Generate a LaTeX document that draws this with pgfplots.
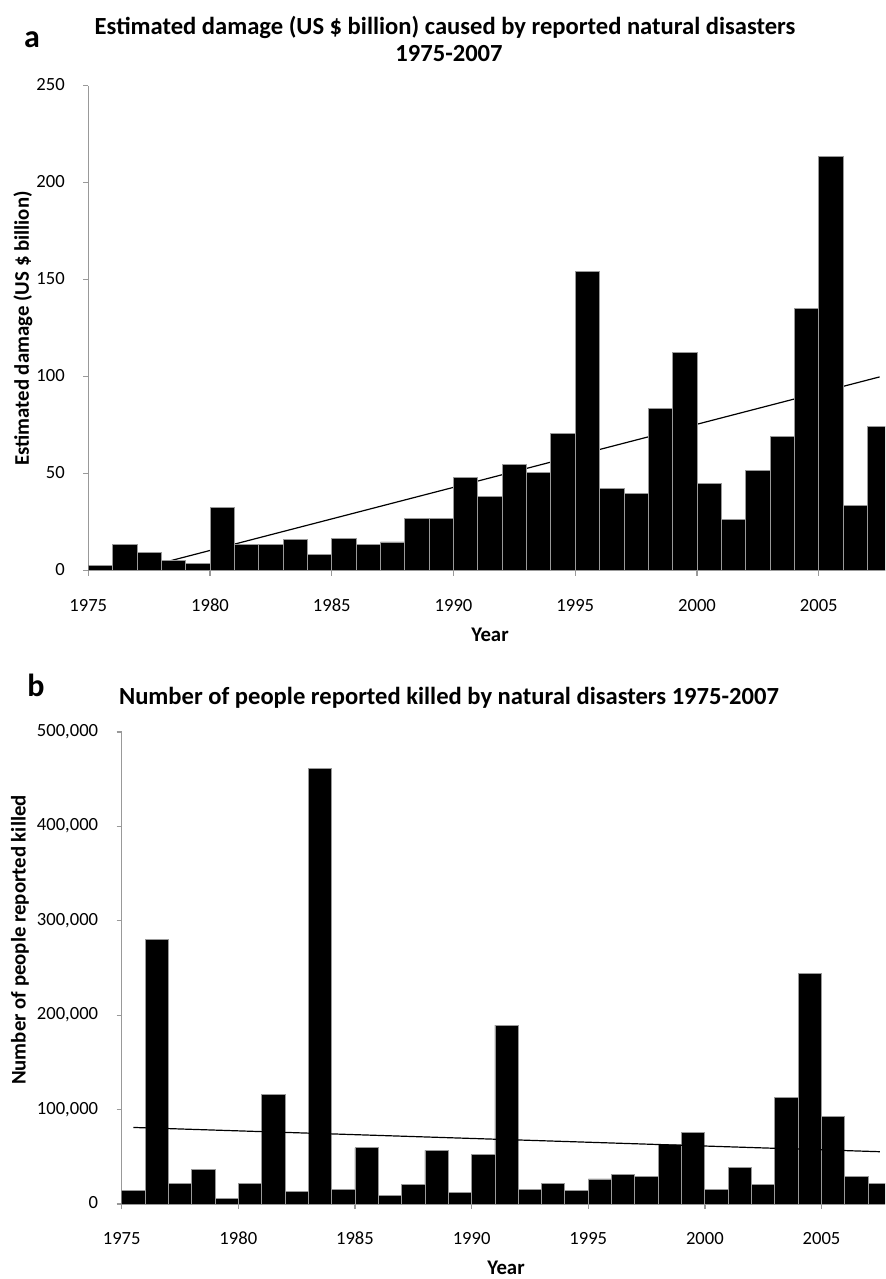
\documentclass[border=0pt]{standalone}
\usepackage{pgfplots}
\pgfplotsset{compat=1.18}
\usepackage{pgfplotstable}
\usepackage{fontspec}
\setmainfont{Carlito}

\pgfplotstableread{
year damage
1975 2.7
1976 13.7
1977 9.6
1978 5.5
1979 3.9
1980 32.4
1981 13.7
1982 13.7
1983 16.1
1984 8.6
1985 16.5
1986 13.5
1987 14.8
1988 26.8
1989 26.8
1990 48.0
1991 38.3
1992 54.7
1993 50.4
1994 70.7
1995 154.4
1996 42.5
1997 39.6
1998 83.5
1999 112.7
2000 45.1
2001 26.6
2002 51.5
2003 69.1
2004 135.2
2005 213.7
2006 33.4
2007 74.4
}\damagetable

\pgfplotstableread{
year killed
1975 14100
1976 280600
1977 21900
1978 37000
1979 6000
1980 22200
1981 116000
1982 13000
1983 461300
1984 15500
1985 59600
1986 9500
1987 20800
1988 56800
1989 12000
1990 52600
1991 189400
1992 15900
1993 21500
1994 14500
1995 26500
1996 31000
1997 29300
1998 62800
1999 76200
2000 15900
2001 38800
2002 20800
2003 112900
2004 244700
2005 92400
2006 28900
2007 21900
}\killedtable

\definecolor{axisgray}{gray}{0.6}
\definecolor{edgegray}{gray}{0.6}

\pgfplotsset{
  excelstyle/.style={
    scale only axis,
    axis x line=bottom,
    axis y line=left,
    axis line style={-, axisgray, line width=0.6pt},
    tick align=outside,
    major tick length=2.5pt,
    tick style={axisgray, line width=0.6pt},
    xtick={1975,1980,...,2005},
    xmin=1975, xmax=2007.72,
    ymin=0,
    typeset ticklabels with strut,
    xticklabel style={font=\fontsize{9.3}{11}\selectfont, /pgf/number format/1000 sep={}, yshift=-6.5pt},
    yticklabel style={font=\fontsize{9.3}{11}\selectfont, xshift=-5.75pt},
    /pgf/number format/assume math mode=true,
    clip=true,
  },
  barstyle/.style={ybar, bar width=1, fill=black, draw=edgegray, line width=0.45pt},
}

\begin{document}
\begin{tikzpicture}
\useasboundingbox (0pt,0pt) rectangle (442.5pt,-639.5pt);

% ---------- panel a ----------
\begin{axis}[excelstyle,
  at={(44.15pt,-285.35pt)}, anchor=south west,
  width=398.35pt, height=242.5pt,
  ymax=250, ytick={0,50,...,250},
]
\addplot[black, line width=0.6pt] coordinates {(1975.5,-4.2) (2007.5,99.9)};
\addplot[barstyle] table[x expr=\thisrow{year}+0.5, y=damage] {\damagetable};
\end{axis}

% ---------- panel b ----------
\begin{axis}[excelstyle,
  at={(60.85pt,-602pt)}, anchor=south west,
  width=381.65pt, height=236pt,
  ymax=500000, ytick={0,100000,...,500000},
  scaled y ticks=false,
  yticklabel style={/pgf/number format/.cd, fixed, 1000 sep={,}},
]
\addplot[barstyle] table[x expr=\thisrow{year}+0.5, y=killed] {\killedtable};
\addplot[black, line width=0.6pt] coordinates {(1975.5,81100) (2007.5,55400)};
\end{axis}

% ---------- texts ----------
\node[font=\fontsize{16}{19}\selectfont\bfseries] at (16pt,-20pt) {a};
\node[anchor=base, font=\fontsize{12.3}{14}\selectfont\bfseries] at (222.5pt,-17.5pt) {Estimated damage (US \$ billion) caused by reported natural disasters};
\node[anchor=base, font=\fontsize{12.3}{14}\selectfont\bfseries] at (224.5pt,-31pt) {1975-2007};
\node[font=\fontsize{10.4}{12.4}\selectfont\bfseries] at (245pt,-317.5pt) {Year};
\node[rotate=90, font=\fontsize{10.4}{12.4}\selectfont\bfseries] at (11.5pt,-164.25pt) {Estimated damage (US \$ billion)};

\node[font=\fontsize{16}{19}\selectfont\bfseries] at (18pt,-342.5pt) {b};
\node[anchor=base, font=\fontsize{12.3}{14}\selectfont\bfseries] at (224.5pt,-352pt) {Number of people reported killed by natural disasters 1975-2007};
\node[font=\fontsize{10.4}{12.4}\selectfont\bfseries] at (253pt,-634pt) {Year};
\node[rotate=90, font=\fontsize{10.4}{12.4}\selectfont\bfseries] at (10pt,-470pt) {Number of people reported killed};
\end{tikzpicture}
\end{document}
